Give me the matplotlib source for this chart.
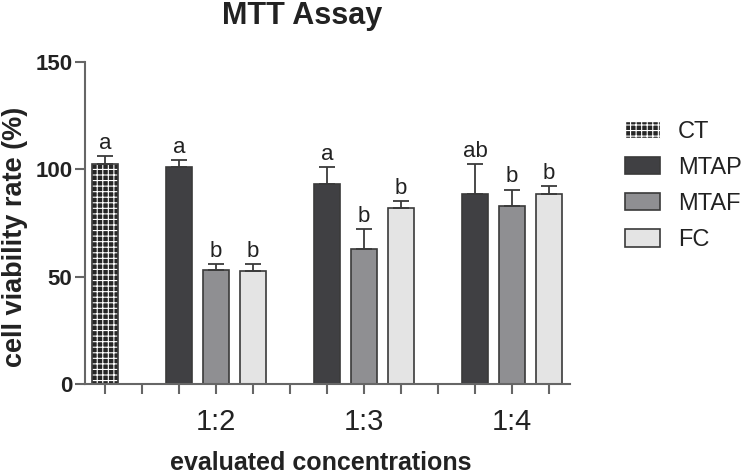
import matplotlib
matplotlib.use("Agg")
import matplotlib.pyplot as plt
from matplotlib.patches import Patch
from matplotlib.transforms import blended_transform_factory
import numpy as np

plt.rcParams["font.family"] = ["Liberation Sans", "DejaVu Sans"]
plt.rcParams["hatch.linewidth"] = 0.8

# data
groups = ["1:2", "1:3", "1:4"]
series = ["MTAP", "MTAF", "FC"]
ct_mean = 102.5
ct_err = 3.5
ct_letter = "a"
means = {
    "MTAP": [101.0, 93.0, 88.5],
    "MTAF": [53.0, 62.7, 82.8],
    "FC":   [52.8, 81.8, 88.5],
}
errs = {
    "MTAP": [3.3, 8.0, 14.0],
    "MTAF": [3.0, 9.6, 7.8],
    "FC":   [3.2, 3.6, 3.7],
}
letters = {
    "MTAP": ["a", "a", "ab"],
    "MTAF": ["b", "b", "b"],
    "FC":   ["b", "b", "b"],
}
colors = {"MTAP": "#404043", "MTAF": "#8f8f92", "FC": "#e4e4e4"}
ct_face = "#262626"
edge = "#3a3a3a"
axis_col = "#666666"
txt_col = "#222222"

fig = plt.figure(figsize=(7.5, 4.75), dpi=100)
ax = fig.add_axes([0.1133, 0.1916, 0.6467, 0.6779])

width = 0.7
# control bar: dark fill with white check pattern
ax.bar(0, ct_mean, width, color=ct_face, edgecolor="white", hatch="+++", linewidth=0)
ax.bar(0, ct_mean, width, fill=False, edgecolor=edge, linewidth=1.2)
ax.errorbar(0, ct_mean, yerr=[[0], [ct_err]], fmt="none", ecolor=edge,
            elinewidth=1.3, capsize=6, capthick=1.3)
ax.text(0, ct_mean + ct_err + 1.0, ct_letter, ha="center", va="bottom",
        fontsize=16, color=txt_col)

n_slots = 1
for gi, g in enumerate(groups):
    for si, s in enumerate(series):
        x = 2 + gi * (len(series) + 1) + si
        n_slots = max(n_slots, x + 1)
        m = means[s][gi]
        e = errs[s][gi]
        ax.bar(x, m, width, color=colors[s], edgecolor=edge, linewidth=1.2)
        ax.errorbar(x, m, yerr=[[0], [e]], fmt="none", ecolor=edge,
                    elinewidth=1.3, capsize=6, capthick=1.3)
        ax.text(x, m + e + 1.0, letters[s][gi], ha="center", va="bottom",
                fontsize=16, color=txt_col)

ax.set_xlim(-0.55, n_slots - 1 + 0.57)
ax.set_ylim(0, 150)
ax.set_yticks([0, 50, 100, 150])
ax.set_xticks(np.arange(n_slots))
ax.set_xticklabels([])
ax.tick_params(axis="both", colors=axis_col, width=1.5, length=7)
ax.tick_params(axis="y", labelsize=16, labelcolor=txt_col, pad=2)
for lab in ax.get_yticklabels():
    lab.set_fontweight("bold")
for side in ["top", "right"]:
    ax.spines[side].set_visible(False)
for side in ["left", "bottom"]:
    ax.spines[side].set_color(axis_col)
    ax.spines[side].set_linewidth(1.5)

# group labels under the middle bar of each group
trans = blended_transform_factory(ax.transData, ax.transAxes)
for gi, g in enumerate(groups):
    xc = 2 + gi * (len(series) + 1) + (len(series) - 1) / 2
    ax.text(xc, -0.118, g, transform=trans, ha="center", va="center",
            fontsize=21, color=txt_col)

ax.set_xlabel("evaluated concentrations", fontsize=18, fontweight="bold", color=txt_col)
ax.xaxis.label.set_va("center")
ax.xaxis.set_label_coords(0.487, -0.245)
ax.set_ylabel("cell viability rate (%)", fontsize=19.5, fontweight="bold", color=txt_col)
ax.yaxis.label.set_va("center")
ax.yaxis.set_label_coords(-0.144, 0.457)
fig.text(0.403, 0.966, "MTT Assay", ha="center", va="center",
         fontsize=22, fontweight="bold", color=txt_col)

handles = [Patch(facecolor=ct_face, edgecolor="white", hatch="+++", label="CT")]
handles += [Patch(facecolor=colors[s], edgecolor=edge, linewidth=1.2, label=s) for s in series]
leg = fig.legend(handles=handles, loc="upper left", bbox_to_anchor=(0.833, 0.746),
                 frameon=False, fontsize=17, handlelength=1.48, handleheight=0.76,
                 handletextpad=0.76, labelspacing=0.6, borderpad=0,
                 borderaxespad=0, labelcolor=txt_col)

fig.savefig("out.png", dpi=100)
